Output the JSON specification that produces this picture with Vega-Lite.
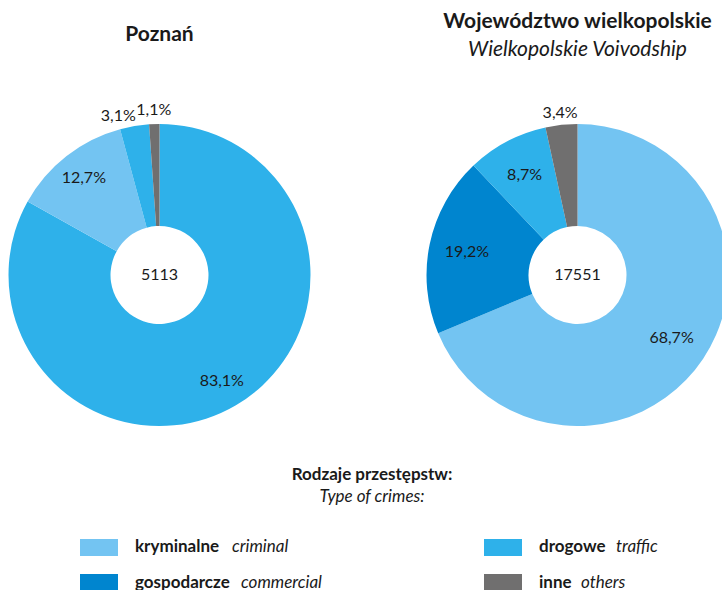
{
  "$schema": "https://vega.github.io/schema/vega-lite/v6.json",
  "padding": {"left": 0, "right": 0, "top": 10, "bottom": 0},
  "background": "white",
  "config": {
    "view": {"stroke": null},
    "font": "Lato",
    "locale": {"number": {"decimal": ",", "thousands": " ", "grouping": [3], "currency": ["", " zł"]}},
    "title": {"font": "Lato", "color": "#1a1a1a", "subtitleFont": "Lato", "subtitleColor": "#1a1a1a"}
  },
  "datasets": {
    "przestepstwa": [
      {"region": "Poznań", "kategoria": "kryminalne", "pct": 0.831},
      {"region": "Poznań", "kategoria": "gospodarcze", "pct": 0.127},
      {"region": "Poznań", "kategoria": "drogowe", "pct": 0.031},
      {"region": "Poznań", "kategoria": "inne", "pct": 0.011},
      {"region": "Województwo wielkopolskie", "kategoria": "kryminalne", "pct": 0.687},
      {"region": "Województwo wielkopolskie", "kategoria": "gospodarcze", "pct": 0.192},
      {"region": "Województwo wielkopolskie", "kategoria": "drogowe", "pct": 0.087},
      {"region": "Województwo wielkopolskie", "kategoria": "inne", "pct": 0.034}
    ],
    "ogolem": [
      {"region": "Poznań", "ogolem": 5113},
      {"region": "Województwo wielkopolskie", "ogolem": 17551}
    ],
    "legenda": [
      {"kategoria": "kryminalne", "en": "criminal"},
      {"kategoria": "gospodarcze", "en": "commercial"},
      {"kategoria": "drogowe", "en": "traffic"},
      {"kategoria": "inne", "en": "others"}
    ],
    "tytul_legendy": [
      {"pl": "Rodzaje przestępstw:", "en": "Type of crimes:"}
    ]
  },
  "vconcat": [
    {
      "hconcat": [
        {
          "width": 319,
          "height": 302,
          "title": {"text": "Poznań", "fontSize": 21, "fontWeight": "bold", "offset": 57, "frame": "group", "anchor": "middle"},
          "layer": [
            {
              "data": {"name": "przestepstwa"},
              "transform": [{"filter": "datum.region === 'Poznań'"}],
              "mark": {"type": "arc", "outerRadius": 151, "innerRadius": 49},
              "encoding": {
                "theta": {"field": "pct", "type": "quantitative", "stack": true},
                "order": {"field": "pct", "sort": "descending"},
                "color": {"field": "kategoria", "type": "nominal", "legend": null,
                  "scale": {"domain": ["kryminalne", "gospodarcze", "drogowe", "inne"], "range": ["#2EB1EA", "#73C4F2", "#2EB1EA", "#706F6F"]}}
              }
            },
            {
              "data": {"name": "przestepstwa"},
              "transform": [{"filter": "datum.region === 'Poznań'"}],
              "mark": {"type": "text", "radius": 123, "fontSize": 16, "color": "#1a1a1a"},
              "encoding": {
                "theta": {"field": "pct", "type": "quantitative", "stack": true},
                "order": {"field": "pct", "sort": "descending"},
                "detail": {"field": "kategoria", "type": "nominal"},
                "text": {"condition": {"test": "datum.pct >= 0.05", "field": "pct", "type": "quantitative", "format": ".1%"}, "value": ""}
              }
            },
            {
              "data": {"name": "przestepstwa"},
              "transform": [{"filter": "datum.region === 'Poznań'"}],
              "mark": {"type": "text", "radius": 164, "dx": -14, "dy": 3, "fontSize": 16, "color": "#1a1a1a"},
              "encoding": {
                "theta": {"field": "pct", "type": "quantitative", "stack": true},
                "order": {"field": "pct", "sort": "descending"},
                "detail": {"field": "kategoria", "type": "nominal"},
                "text": {"condition": {"test": "datum.pct >= 0.02 && datum.pct < 0.05", "field": "pct", "type": "quantitative", "format": ".1%"}, "value": ""}
              }
            },
            {
              "data": {"name": "przestepstwa"},
              "transform": [{"filter": "datum.region === 'Poznań'"}],
              "mark": {"type": "text", "radius": 165, "fontSize": 16, "color": "#1a1a1a"},
              "encoding": {
                "theta": {"field": "pct", "type": "quantitative", "stack": true},
                "order": {"field": "pct", "sort": "descending"},
                "detail": {"field": "kategoria", "type": "nominal"},
                "text": {"condition": {"test": "datum.pct < 0.02", "field": "pct", "type": "quantitative", "format": ".1%"}, "value": ""}
              }
            },
            {
              "data": {"name": "ogolem"},
              "transform": [{"filter": "datum.region === 'Poznań'"}],
              "mark": {"type": "text", "fontSize": 16, "color": "#1a1a1a"},
              "encoding": {"text": {"field": "ogolem", "type": "quantitative", "format": "d"}}
            }
          ]
        },
        {
          "width": 296,
          "height": 302,
          "title": {"text": "Województwo wielkopolskie", "subtitle": "Wielkopolskie Voivodship", "fontSize": 21, "fontWeight": "bold", "subtitleFontSize": 21, "subtitleFontStyle": "italic", "subtitlePadding": 7, "offset": 45, "dx": 3.5, "frame": "group", "anchor": "middle"},
          "layer": [
            {
              "data": {"name": "przestepstwa"},
              "transform": [{"filter": "datum.region === 'Województwo wielkopolskie'"}],
              "mark": {"type": "arc", "outerRadius": 151, "innerRadius": 49, "xOffset": 3.5, "clip": true},
              "encoding": {
                "theta": {"field": "pct", "type": "quantitative", "stack": true},
                "order": {"field": "pct", "sort": "descending"},
                "color": {"field": "kategoria", "type": "nominal", "legend": null,
                  "scale": {"domain": ["kryminalne", "gospodarcze", "drogowe", "inne"], "range": ["#73C4F2", "#0085CF", "#2EB1EA", "#706F6F"]}}
              }
            },
            {
              "data": {"name": "przestepstwa"},
              "transform": [{"filter": "datum.region === 'Województwo wielkopolskie'"}],
              "mark": {"type": "text", "radius": 113, "dx": 3.5, "fontSize": 16, "color": "#1a1a1a"},
              "encoding": {
                "theta": {"field": "pct", "type": "quantitative", "stack": true},
                "order": {"field": "pct", "sort": "descending"},
                "detail": {"field": "kategoria", "type": "nominal"},
                "text": {"condition": {"test": "datum.pct >= 0.05", "field": "pct", "type": "quantitative", "format": ".1%"}, "value": ""}
              }
            },
            {
              "data": {"name": "przestepstwa"},
              "transform": [{"filter": "datum.region === 'Województwo wielkopolskie'"}],
              "mark": {"type": "text", "radius": 163, "dx": 3.5, "fontSize": 16, "color": "#1a1a1a"},
              "encoding": {
                "theta": {"field": "pct", "type": "quantitative", "stack": true},
                "order": {"field": "pct", "sort": "descending"},
                "detail": {"field": "kategoria", "type": "nominal"},
                "text": {"condition": {"test": "datum.pct < 0.05", "field": "pct", "type": "quantitative", "format": ".1%"}, "value": ""}
              }
            },
            {
              "data": {"name": "ogolem"},
              "transform": [{"filter": "datum.region === 'Województwo wielkopolskie'"}],
              "mark": {"type": "text", "fontSize": 16, "dx": 3.5, "color": "#1a1a1a"},
              "encoding": {"text": {"field": "ogolem", "type": "quantitative", "format": "d"}}
            }
          ]
        }
      ],
      "spacing": 107,
      "bounds": "flush",
      "resolve": {"scale": {"color": "independent", "theta": "independent"}}
    },
    {
      "width": 722,
      "height": 45,
      "data": {"name": "tytul_legendy"},
      "layer": [
        {
          "mark": {"type": "text", "fontSize": 17, "fontWeight": "bold", "baseline": "alphabetic", "dx": 11, "dy": -3, "color": "#1a1a1a"},
          "encoding": {"text": {"field": "pl", "type": "nominal"}}
        },
        {
          "mark": {"type": "text", "fontSize": 17, "fontStyle": "italic", "baseline": "alphabetic", "dx": 11, "dy": 18.5, "color": "#1a1a1a"},
          "encoding": {"text": {"field": "en", "type": "nominal"}}
        }
      ]
    },
    {
      "hconcat": [
        {
          "width": 40,
          "height": 17,
          "data": {"values": []},
          "mark": "point"
        },
        {
          "hconcat": [
            {
              "width": 38,
              "height": 52,
              "data": {"name": "legenda"},
              "transform": [{"filter": {"field": "kategoria", "oneOf": ["kryminalne", "gospodarcze"]}}],
              "encoding": {
                "y": {"field": "kategoria", "type": "nominal", "sort": ["kryminalne", "gospodarcze"], "axis": null,
                  "scale": {"paddingInner": 0.5143, "paddingOuter": 0}}
              },
              "layer": [
                {
                  "mark": {"type": "rect"},
                  "encoding": {
                    "color": {"field": "kategoria", "type": "nominal", "legend": null,
                      "scale": {"domain": ["kryminalne", "gospodarcze", "drogowe", "inne"], "range": ["#73C4F2", "#0085CF", "#2EB1EA", "#706F6F"]}}
                  }
                },
                {
                  "mark": {"type": "text", "align": "left", "dx": 36, "fontSize": 17, "fontWeight": "bold", "color": "#1a1a1a"},
                  "encoding": {"text": {"field": "kategoria", "type": "nominal"}}
                },
                {
                  "transform": [{"filter": "datum.kategoria === 'kryminalne'"}],
                  "mark": {"type": "text", "align": "left", "dx": 133, "fontSize": 17, "fontStyle": "italic", "color": "#1a1a1a"},
                  "encoding": {"text": {"field": "en", "type": "nominal"}}
                },
                {
                  "transform": [{"filter": "datum.kategoria === 'gospodarcze'"}],
                  "mark": {"type": "text", "align": "left", "dx": 142, "fontSize": 17, "fontStyle": "italic", "color": "#1a1a1a"},
                  "encoding": {"text": {"field": "en", "type": "nominal"}}
                }
              ]
            },
            {
              "width": 38,
              "height": 52,
              "data": {"name": "legenda"},
              "transform": [{"filter": {"field": "kategoria", "oneOf": ["drogowe", "inne"]}}],
              "encoding": {
                "y": {"field": "kategoria", "type": "nominal", "sort": ["drogowe", "inne"], "axis": null,
                  "scale": {"paddingInner": 0.5143, "paddingOuter": 0}}
              },
              "layer": [
                {
                  "mark": {"type": "rect"},
                  "encoding": {
                    "color": {"field": "kategoria", "type": "nominal", "legend": null,
                      "scale": {"domain": ["kryminalne", "gospodarcze", "drogowe", "inne"], "range": ["#73C4F2", "#0085CF", "#2EB1EA", "#706F6F"]}}
                  }
                },
                {
                  "mark": {"type": "text", "align": "left", "dx": 36, "fontSize": 17, "fontWeight": "bold", "color": "#1a1a1a"},
                  "encoding": {"text": {"field": "kategoria", "type": "nominal"}}
                },
                {
                  "transform": [{"filter": "datum.kategoria === 'drogowe'"}],
                  "mark": {"type": "text", "align": "left", "dx": 113, "fontSize": 17, "fontStyle": "italic", "color": "#1a1a1a"},
                  "encoding": {"text": {"field": "en", "type": "nominal"}}
                },
                {
                  "transform": [{"filter": "datum.kategoria === 'inne'"}],
                  "mark": {"type": "text", "align": "left", "dx": 78, "fontSize": 17, "fontStyle": "italic", "color": "#1a1a1a"},
                  "encoding": {"text": {"field": "en", "type": "nominal"}}
                }
              ]
            }
          ],
          "spacing": 366,
          "bounds": "flush"
        }
      ],
      "spacing": 40,
      "bounds": "flush"
    }
  ],
  "spacing": 32.5,
  "resolve": {"scale": {"color": "independent", "theta": "independent", "y": "independent"}}
}
